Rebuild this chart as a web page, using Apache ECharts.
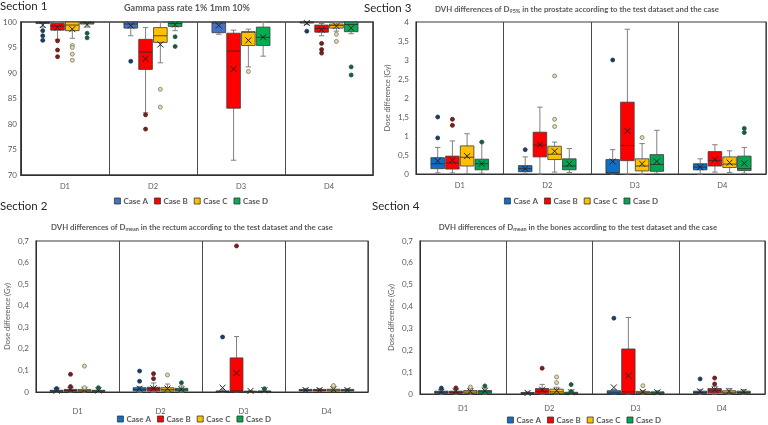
<!DOCTYPE html>
<html><head><meta charset="utf-8">
<script src="https://cdn.jsdelivr.net/npm/echarts/dist/echarts.min.js"></script>
<style>html,body{margin:0;padding:0;background:#fff}#c{width:768px;height:425px}</style>
</head><body><div id="c"></div><script>
const categories = ['D1','D2','D3','D4'];
const caseNames = ['Case A','Case B','Case C','Case D'];
// stats per category: [min, q1, median, q3, max, mean]; outliers: [categoryIndex, value]
// Section 1 – Gamma pass rate
const gammaA = [[99.0,99.7,99.9,100,100,99.4],[97.3,98.8,99.6,100,100,99.3],[97.6,97.9,99.8,100,100,99.3],[99.5,99.8,99.95,100,100,99.8]];
const gammaB = [[96.6,98.4,99.2,99.7,100,98.9],[82.2,90.7,94.1,96.6,98.9,92.8],[72.9,83.1,94.3,97.8,98.4,90.8],[97.3,98.0,98.7,99.4,99.7,98.5]];
const gammaC = [[96.8,98.3,99.4,100,100,98.6],[92.0,96.0,97.3,98.9,100,95.6],[91.2,95.4,98.0,98.1,98.6,96.4],[98.2,98.8,99.3,99.6,100,99.2]];
const gammaD = [[99.0,99.6,99.9,100,100,99.5],[98.3,99.1,99.7,100,100,99.5],[93.3,95.4,97.0,99.0,100,97.0],[97.7,98.1,99.5,100,100,98.8]];
const gammaOutA = [[0,98.3],[0,97.3],[0,96.4],[1,92.3],[3,98.2]];
const gammaOutB = [[0,96.3],[0,94.5],[0,93.2],[1,81.8],[1,79.0],[3,95.8],[3,94.6],[3,93.9]];
const gammaOutC = [[0,95.4],[0,95.0],[0,93.7],[0,92.5],[1,86.8],[1,83.3],[2,90.3],[3,97.6],[3,96.2]];
const gammaOutD = [[0,97.8],[0,96.9],[1,97.1],[1,95.2],[3,91.2],[3,89.6]];
// Section 3 – D95% prostate
const prosA = [[0.03,0.14,0.27,0.43,0.70,0.34],[0.01,0.06,0.14,0.22,0.45,0.14],[0.0,0.02,0.03,0.38,0.64,0.33],[0.0,0.11,0.18,0.27,0.40,0.18]];
const prosB = [[0.03,0.13,0.29,0.47,0.87,0.36],[0.0,0.45,0.76,1.10,1.76,0.77],[0.0,0.35,0.75,1.89,3.81,1.13],[0.05,0.21,0.36,0.59,0.77,0.38]];
const prosC = [[0.01,0.21,0.44,0.74,1.06,0.47],[0.05,0.38,0.52,0.73,0.84,0.60],[0.0,0.08,0.21,0.40,0.80,0.27],[0.04,0.17,0.26,0.45,0.61,0.30]];
const prosD = [[0.02,0.11,0.27,0.39,0.84,0.27],[0.04,0.11,0.21,0.40,0.67,0.27],[0.02,0.07,0.25,0.51,1.15,0.33],[0.02,0.09,0.14,0.47,0.70,0.28]];
const prosOutA = [[0,0.95],[0,1.50],[1,0.64],[2,3.0]];
const prosOutB = [[0,1.28],[0,1.44]];
const prosOutC = [[1,1.25],[1,1.44],[1,2.58],[2,0.96]];
const prosOutD = [[0,0.84],[3,1.09],[3,1.20]];
// Section 2 – Dmean rectum
const recA = [[0,0.002,0.005,0.008,0.014,0.006],[0,0.005,0.012,0.02,0.025,0.015],[0,0,0.002,0.005,0.01,0.02],[0.002,0.005,0.008,0.012,0.016,0.009]];
const recB = [[0,0.003,0.007,0.012,0.02,0.01],[0,0.005,0.015,0.022,0.042,0.017],[0,0,0.005,0.158,0.257,0.088],[0.002,0.005,0.008,0.012,0.016,0.009]];
const recC = [[0,0.003,0.006,0.012,0.018,0.01],[0,0.005,0.012,0.02,0.037,0.016],[0,0,0.002,0.004,0.006,0.005],[0.002,0.005,0.009,0.013,0.02,0.012]];
const recD = [[0,0.002,0.005,0.008,0.015,0.007],[0,0.005,0.01,0.017,0.028,0.013],[0,0,0.002,0.005,0.01,0.008],[0.002,0.005,0.008,0.012,0.016,0.009]];
const recOutA = [[0,0.016],[1,0.05],[1,0.097],[2,0.255]];
const recOutB = [[0,0.025],[0,0.082],[1,0.062],[1,0.085],[2,0.677]];
const recOutC = [[0,0.02],[0,0.12],[1,0.079],[3,0.025],[3,0.03]];
const recOutD = [[0,0.02],[1,0.043],[2,0.015]];
// Section 4 – Dmean bones
const bonA = [[0,0.003,0.008,0.013,0.02,0.01],[0,0.002,0.004,0.007,0.01,0.005],[0,0,0.005,0.015,0.02,0.03],[0,0.003,0.007,0.013,0.02,0.012]];
const bonB = [[0,0.003,0.008,0.013,0.02,0.012],[0,0.003,0.012,0.025,0.044,0.02],[0,0,0.01,0.206,0.35,0.084],[0,0.005,0.015,0.025,0.035,0.02]];
const bonC = [[0,0.003,0.009,0.016,0.025,0.012],[0,0.003,0.01,0.022,0.031,0.015],[0,0.003,0.006,0.012,0.015,0.01],[0,0.003,0.008,0.015,0.025,0.012]];
const bonD = [[0,0.003,0.01,0.016,0.028,0.015],[0,0.002,0.004,0.008,0.012,0.008],[0,0.002,0.005,0.01,0.015,0.008],[0,0.003,0.007,0.013,0.02,0.01]];
const bonOutA = [[0,0.027],[2,0.347],[3,0.069]];
const bonOutB = [[0,0.028],[1,0.118],[3,0.046],[3,0.073]];
const bonOutC = [[0,0.032],[1,0.052],[1,0.078],[2,0.038]];
const bonOutD = [[0,0.037],[1,0.012],[1,0.043]];

const colors1 = ['#4472C4','#FF0000','#FFC000','#00B050'];
const colors2 = ['#0F6FC6','#FF0000','#FFC000','#00A651'];
const outFill = ['#1F3A60','#7A1E1E','#E8D9A0','#1C5A3C'];
const outStroke = ['#1F3A60','#5a1a1a','#777','#1C5A3C'];
const STEP = 0.168, BOXW = 0.155;
const FONT = 'Lato';
const GRAY = '#595959';

function boxSeries(gi, ci, color, stats){
  return {
    type:'custom', name: caseNames[ci], xAxisIndex:gi, yAxisIndex:gi,
    itemStyle:{color}, data: stats.map((s,i)=>[i].concat(s)),
    encode:{x:0, y:[1,2,3,4,5]},
    renderItem:(params, api)=>{
      const cat = api.value(0);
      const band = api.size([1,0])[0];
      const cx = api.coord([cat,0])[0] + (ci-1.5)*STEP*band;
      const hw = BOXW*band/2;
      const y = k=>api.coord([cat, api.value(k)])[1];
      const yMin=y(1), yQ1=y(2), yMed=y(3), yQ3=y(4), yMax=y(5), yMean=y(6);
      const cap = hw*0.4, m = 3;
      const wl = {stroke:'#808080', lineWidth:1};
      return {type:'group', children:[
        {type:'line', shape:{x1:cx,y1:yQ3,x2:cx,y2:yMax}, style:wl},
        {type:'line', shape:{x1:cx,y1:yQ1,x2:cx,y2:yMin}, style:wl},
        {type:'line', shape:{x1:cx-cap,y1:yMax,x2:cx+cap,y2:yMax}, style:wl},
        {type:'line', shape:{x1:cx-cap,y1:yMin,x2:cx+cap,y2:yMin}, style:wl},
        {type:'rect', shape:{x:cx-hw,y:yQ3,width:2*hw,height:Math.max(yQ1-yQ3,1)}, style:{fill:color, stroke:'#3a3a3a', lineWidth:0.8}},
        {type:'line', shape:{x1:cx-hw,y1:yMed,x2:cx+hw,y2:yMed}, style:{stroke:'#2a2a2a', lineWidth:0.8}},
        {type:'line', shape:{x1:cx-m,y1:yMean-m,x2:cx+m,y2:yMean+m}, style:{stroke:'#222', lineWidth:1}},
        {type:'line', shape:{x1:cx-m,y1:yMean+m,x2:cx+m,y2:yMean-m}, style:{stroke:'#222', lineWidth:1}}
      ]};
    }
  };
}
function outSeries(gi, ci, pts){
  return {
    type:'custom', name:'out'+gi+ci, xAxisIndex:gi, yAxisIndex:gi, data:pts, encode:{x:0,y:1},
    renderItem:(params, api)=>{
      const band = api.size([1,0])[0];
      const p = api.coord([api.value(0), api.value(1)]);
      return {type:'circle', shape:{cx:p[0]+(ci-1.5)*STEP*band, cy:p[1], r:2}, style:{fill:outFill[ci], stroke:outStroke[ci], lineWidth:0.8}};
    }
  };
}
const grids = [
  {left:17, top:22, width:356, height:153},
  {left:416, top:22, width:350, height:152},
  {left:36, top:241, width:332, height:151},
  {left:420, top:241, width:345, height:153}
];
const yCfg = [
  {min:70,max:100,interval:5,name:''},
  {min:0,max:4,interval:0.5,name:'Dose difference (Gy)'},
  {min:0,max:0.7,interval:0.1,name:'Dose difference (Gy)'},
  {min:0,max:0.7,interval:0.1,name:'Dose difference (Gy)'}
];
const fmt = v => Number.isInteger(v) ? String(v) : (Math.round(v*10)/10).toFixed(1).replace('.',',');
const xLabelMargin = [8,8,16,11];
const xAxes = grids.map((g,i)=>({
  type:'category', gridIndex:i, data:categories,
  axisLine:{lineStyle:{color:'#303030', width:1}}, axisTick:{show:false},
  axisLabel:{color:GRAY, fontSize:7.5, fontFamily:FONT, margin:xLabelMargin[i]},
  splitLine:{show:true, lineStyle:{color:'#4a4a4a', width:1}}
}));
const yAxes = yCfg.map((c,i)=>({
  type:'value', gridIndex:i, min:c.min, max:c.max, interval:c.interval,
  name:c.name, nameLocation:'middle', nameGap:24, nameRotate:90,
  nameTextStyle:{color:GRAY, fontSize:7.5, fontFamily:FONT},
  axisLine:{show:true, lineStyle:{color:'#303030'}}, axisTick:{show:false},
  axisLabel:{color:GRAY, fontSize:8, fontFamily:FONT, margin:i===0?4:7, formatter:fmt},
  splitLine:{show:false}
}));
const gridsFull = grids.map((g,i)=>Object.assign({show:true, borderColor:'#3a3a3a', borderWidth:i===0?1.6:1.2, backgroundColor:'transparent'}, g));

const panelData = [
  [[gammaA,gammaB,gammaC,gammaD],[gammaOutA,gammaOutB,gammaOutC,gammaOutD],colors1],
  [[prosA,prosB,prosC,prosD],[prosOutA,prosOutB,prosOutC,prosOutD],colors2],
  [[recA,recB,recC,recD],[recOutA,recOutB,recOutC,recOutD],colors2],
  [[bonA,bonB,bonC,bonD],[bonOutA,bonOutB,bonOutC,bonOutD],colors2]
];
const series = [];
panelData.forEach((p,gi)=>{
  for(let ci=0;ci<4;ci++) series.push(boxSeries(gi,ci,p[2][ci],p[0][ci]));
  for(let ci=0;ci<4;ci++) series.push(outSeries(gi,ci,p[1][ci]));
});
const legendPos = [[114,197],[504,197],[117,415],[507,416]];
const legends = legendPos.map((lp,i)=>({
  left:lp[0], top:lp[1], padding:0, itemWidth:6, itemHeight:6, itemGap:6, icon:'rect',
  selectedMode:false,
  textStyle:{color:GRAY, fontSize:8, fontWeight:'bold', fontFamily:FONT, padding:[0,0,0,-2]},
  data: caseNames.map((n,ci)=>({name:n, itemStyle:{color:(i===0?colors1:colors2)[ci], borderColor:'#333', borderWidth:0.8}}))
}));
function titleText(x, y, parts, fs){
  return {type:'text', x, y, style:{
    text: parts, align:'center', verticalAlign:'middle',
    rich:{t:{fontSize:fs, fontWeight:'bold', fill:GRAY, fontFamily:FONT}, s:{fontSize:5.5, fontWeight:'bold', fill:GRAY, fontFamily:FONT, padding:[4,0,0,0]}}
  }};
}
const secStyle = {fontSize:11.5, fill:'#262626', fontFamily:FONT};
const graphic = [
  {type:'text', x:0, y:0, style:Object.assign({text:'Section 1'}, secStyle)},
  {type:'text', x:364, y:2, style:Object.assign({text:'Section 3'}, secStyle)},
  {type:'text', x:0, y:200, style:Object.assign({text:'Section 2'}, secStyle)},
  {type:'text', x:372, y:200, style:Object.assign({text:'Section 4'}, secStyle)},
  titleText(187, 8, '{t|Gamma pass rate 1% 1mm 10%}', 9),
  titleText(577, 9, '{t|DVH differences of D}{s|95%}{t| in the prostate according to the test dataset and the case}', 7.8),
  titleText(192, 227, '{t|DVH differences of D}{s|mean}{t| in the rectum according to the test dataset and the case}', 7.8),
  titleText(578, 227, '{t|DVH differences of D}{s|mean}{t| in the bones according to the test dataset and the case}', 7.8)
];
const chart = echarts.init(document.getElementById('c'), null, {renderer:'canvas'});
chart.setOption({
  animation:false, backgroundColor:'#fff',
  grid:gridsFull, xAxis:xAxes, yAxis:yAxes, legend:legends, series, graphic
});
</script></body></html>
